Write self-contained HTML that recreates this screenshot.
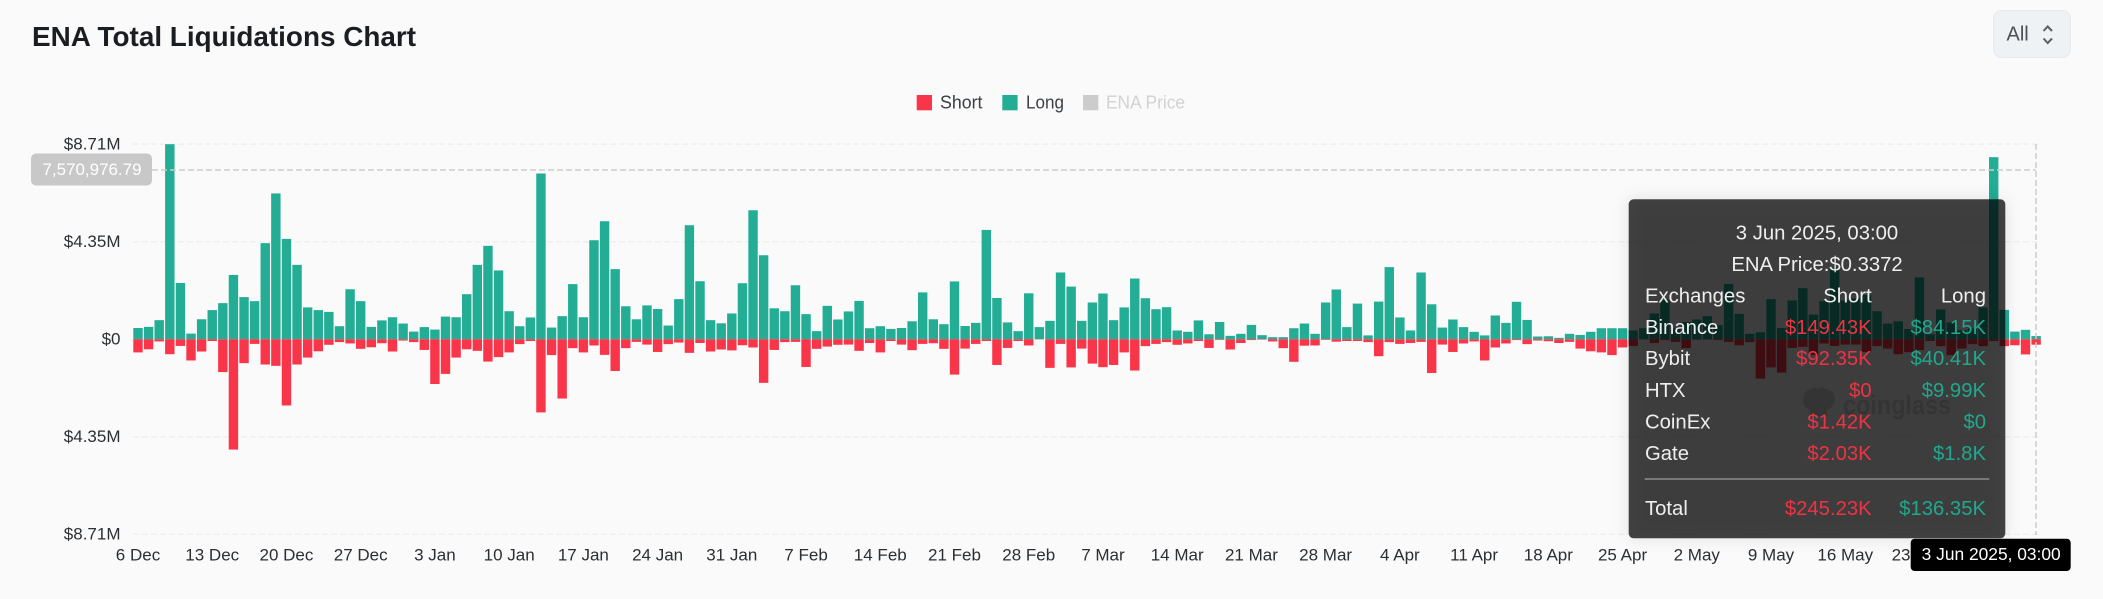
<!DOCTYPE html>
<html lang="en">
<head>
<meta charset="utf-8">
<title>ENA Total Liquidations Chart</title>
<style>
  html, body { margin: 0; padding: 0; background: #fafafa; }
  body { width: 2103px; height: 599px; overflow: hidden; }
  svg { display: block; font-family: "Liberation Sans", sans-serif; }
  .tick { font-size: 17px; fill: #2b2f33; }
  .legend-text { font-size: 18px; fill: #3c4043; }
  .tt { font-size: 20.3px; fill: #eeeeee; }
  .tt-s { font-size: 20.3px; fill: #ee3344; text-anchor: end; }
  .tt-l { font-size: 20.3px; fill: #20a88e; text-anchor: end; }
</style>
</head>
<body>
<svg id="chart" width="2103" height="599" viewBox="0 0 2103 599" xmlns="http://www.w3.org/2000/svg">
  <rect x="0" y="0" width="2103" height="599" fill="#fafafa"/>
  <text x="32" y="46" font-size="28" font-weight="700" fill="#1a1e22" textLength="384" lengthAdjust="spacingAndGlyphs">ENA Total Liquidations Chart</text>

  <g>
    <rect x="1993.5" y="10.5" width="77" height="47" rx="8" fill="#eef2f4" stroke="#e7eaec"/>
    <text x="2006.5" y="40.7" font-size="20" fill="#4a5056">All</text>
    <path d="M2043.5 31 L2047.7 26.5 L2052 31 M2043.5 38.5 L2047.7 43 L2052 38.5" fill="none" stroke="#5a6066" stroke-width="2"/>
  </g>

  <g>
    <g>
      <rect x="916.7" y="95" width="15.3" height="15.3" fill="#f93549"/>
      <text class="legend-text" x="940" y="108.3" textLength="42.5" lengthAdjust="spacingAndGlyphs">Short</text>
    </g>
    <g>
      <rect x="1002.3" y="95" width="15.3" height="15.3" fill="#22ad94"/>
      <text class="legend-text" x="1026" y="108.3" textLength="38" lengthAdjust="spacingAndGlyphs">Long</text>
    </g>
    <g>
      <rect x="1083" y="95" width="15.3" height="15.3" fill="#cccccc"/>
      <text class="legend-text" style="fill:#d2d2d2" x="1106" y="108.3" textLength="79" lengthAdjust="spacingAndGlyphs">ENA Price</text>
    </g>
  </g>

  <g id="grid"></g>
  <g id="yaxis"></g>
  <g id="xaxis"></g>

  <g>
    <path d="M1803 400 C1803 393 1808 389 1812 389 L1814 387 L1818 389 L1822 387 L1825 389 C1830 389 1835 393 1835 399 C1835 404 1831 408 1827 410 L1827 416 L1810 416 L1810 410 C1806 408 1803 405 1803 400 Z" fill="#d5d5d5"/>
    <text x="1843" y="414" font-size="27" font-weight="700" fill="#d7d7d7" textLength="108" lengthAdjust="spacingAndGlyphs">coinglass</text>
  </g>

  <g id="bars"></g>

  <g>
    <line x1="152" y1="170" x2="2036" y2="170" stroke="#cccccc" stroke-width="1.5" stroke-dasharray="6 3"/>
    <line x1="2036" y1="144" x2="2036" y2="535" stroke="#cccccc" stroke-width="1.5" stroke-dasharray="6 3"/>
    <rect x="31" y="153.5" width="121" height="32" rx="5" fill="#c8c8c8"/>
    <text x="42.5" y="175" font-size="17" fill="#ffffff" textLength="99" lengthAdjust="spacingAndGlyphs">7,570,976.79</text>
  </g>

  <g>
    <rect x="1628.7" y="199.3" width="376.6" height="339" rx="5" fill="rgba(0,0,0,0.73)" style="filter:drop-shadow(0 0 8px rgba(0,0,0,0.14))"/>
    <text class="tt" x="1817" y="239.3" text-anchor="middle">3 Jun 2025, 03:00</text>
    <text class="tt" x="1817" y="271" text-anchor="middle">ENA Price:$0.3372</text>

    <text class="tt" x="1645" y="302.3">Exchanges</text>
    <text class="tt" x="1871.7" y="302.3" text-anchor="end">Short</text>
    <text class="tt" x="1986" y="302.3" text-anchor="end">Long</text>

    <text class="tt" x="1645" y="334">Binance</text>
    <text class="tt-s" x="1871.7" y="334">$149.43K</text>
    <text class="tt-l" x="1986" y="334">$84.15K</text>

    <text class="tt" x="1645" y="365">Bybit</text>
    <text class="tt-s" x="1871.7" y="365">$92.35K</text>
    <text class="tt-l" x="1986" y="365">$40.41K</text>

    <text class="tt" x="1645" y="397">HTX</text>
    <text class="tt-s" x="1871.7" y="397">$0</text>
    <text class="tt-l" x="1986" y="397">$9.99K</text>

    <text class="tt" x="1645" y="428.3">CoinEx</text>
    <text class="tt-s" x="1871.7" y="428.3">$1.42K</text>
    <text class="tt-l" x="1986" y="428.3">$0</text>

    <text class="tt" x="1645" y="460">Gate</text>
    <text class="tt-s" x="1871.7" y="460">$2.03K</text>
    <text class="tt-l" x="1986" y="460">$1.8K</text>

    <line x1="1644.7" y1="479" x2="1989.3" y2="479" stroke="#b5b5b5" stroke-width="1"/>

    <text class="tt" x="1645" y="515">Total</text>
    <text class="tt-s" x="1871.7" y="515">$245.23K</text>
    <text class="tt-l" x="1986" y="515">$136.35K</text>
  </g>

  <g>
    <rect x="1910.7" y="538.7" width="160" height="32.3" rx="4" fill="#000000"/>
    <text x="1921.7" y="560" font-size="17.3" fill="#ffffff" textLength="139" lengthAdjust="spacingAndGlyphs">3 Jun 2025, 03:00</text>
  </g>
</svg>

<script>
const longValues = [
  0.50,0.55,0.85,8.71,2.51,0.25,0.89,1.30,1.61,2.87,1.88,1.70,4.29,6.51,4.48,3.32,1.42,1.30,1.22,0.58,
  2.23,1.70,0.55,0.84,0.98,0.70,0.34,0.54,0.43,1.01,0.98,2.01,3.32,4.17,3.07,1.25,0.58,0.97,7.40,0.52,
  1.03,2.46,0.98,4.42,5.27,3.13,1.47,0.89,1.51,1.35,0.61,1.79,5.09,2.59,0.85,0.71,1.15,2.50,5.76,3.75,
  1.38,1.25,2.41,1.12,0.36,1.49,0.88,1.24,1.71,0.49,0.58,0.46,0.50,0.80,2.09,0.89,0.67,2.58,0.59,0.73,
  4.88,1.84,0.75,0.36,2.05,0.54,0.82,2.98,2.35,0.82,1.64,2.04,0.85,1.42,2.71,1.83,1.34,1.43,0.39,0.33,
  0.84,0.22,0.77,0.15,0.24,0.64,0.18,0.09,0.09,0.49,0.70,0.24,1.64,2.22,0.54,1.59,0.17,1.68,3.22,0.97,
  0.39,2.98,1.56,0.52,0.88,0.54,0.33,0.17,1.06,0.73,1.67,0.86,0.12,0.13,0.06,0.24,0.19,0.33,0.49,0.49,
  0.49,0.39,0.49,1.15,1.74,0.48,0.77,0.88,1.03,0.63,2.47,1.13,0.24,0.31,1.79,0.50,1.73,2.28,1.10,1.70,
  3.16,1.73,1.82,1.97,1.25,0.70,0.80,0.46,2.76,0.22,1.33,0.75,0.40,0.48,1.42,8.13,1.31,0.34,0.42,0.14
];
const shortValues = [
  0.59,0.45,0.10,0.67,0.30,0.95,0.55,0.08,1.47,4.93,1.07,0.21,1.13,1.19,2.96,1.13,0.82,0.54,0.25,0.13,
  0.19,0.43,0.36,0.18,0.55,0.06,0.13,0.48,2.00,1.55,0.82,0.45,0.52,1.00,0.80,0.59,0.22,0.08,3.27,0.71,
  2.65,0.40,0.59,0.28,0.70,1.42,0.40,0.12,0.24,0.57,0.22,0.15,0.61,0.17,0.55,0.46,0.50,0.27,0.37,1.95,
  0.48,0.13,0.12,1.24,0.43,0.33,0.25,0.24,0.52,0.17,0.59,0.08,0.24,0.49,0.21,0.18,0.43,1.58,0.42,0.21,
  0.08,1.15,0.39,0.08,0.28,0.01,1.28,0.21,1.26,0.42,1.09,1.25,1.15,0.59,1.40,0.31,0.21,0.13,0.25,0.19,
  0.08,0.39,0.03,0.46,0.17,0.04,0.02,0.10,0.40,1.01,0.29,0.28,0.03,0.11,0.08,0.08,0.13,0.76,0.13,0.21,
  0.17,0.12,1.51,0.24,0.57,0.19,0.10,0.95,0.37,0.19,0.04,0.22,0.06,0.09,0.17,0.12,0.42,0.54,0.59,0.71,
  0.37,0.31,0.01,0.17,0.04,0.12,0.40,0.02,0.02,0.04,0.12,0.27,0.13,1.76,1.26,1.49,0.39,0.34,0.70,0.19,
  0.30,0.24,0.24,0.57,0.31,0.42,0.67,0.58,0.48,0.08,0.31,0.71,0.42,0.22,0.31,0.08,0.31,0.27,0.68,0.245
];
const xTickLabels = [
  "6 Dec","13 Dec","20 Dec","27 Dec","3 Jan","10 Jan","17 Jan","24 Jan","31 Jan","7 Feb","14 Feb","21 Feb","28 Feb",
  "7 Mar","14 Mar","21 Mar","28 Mar","4 Apr","11 Apr","18 Apr","25 Apr","2 May","9 May","16 May","23 May","30 May"
];
const xTickEvery = 7;
const yTickValues = [8.71, 4.355, 0, -4.355, -8.71];
const yTickLabels = ["$8.71M", "$4.35M", "$0", "$4.35M", "$8.71M"];

const NS = "http://www.w3.org/2000/svg";
function xScale(i) { return 138 + 10.604 * i; }
function yScale(v) { return 339.2 - v * 22.39; }
const barWidth = 9.4;

const barsGroup = document.getElementById("bars");
const gridGroup = document.getElementById("grid");
const yAxisGroup = document.getElementById("yaxis");
const xAxisGroup = document.getElementById("xaxis");

yTickValues.forEach(function (v, i) {
  const y = yScale(v);
  if (v !== 0) {
    const line = document.createElementNS(NS, "line");
    
    
    line.setAttribute("x1", 133);
    line.setAttribute("x2", 2041);
    line.setAttribute("y1", y);
    line.setAttribute("y2", y);
    line.setAttribute("stroke", "#efefef");
    line.setAttribute("stroke-width", "1.5");
    line.setAttribute("stroke-dasharray", "6 3");
    gridGroup.appendChild(line);
  }
  const label = document.createElementNS(NS, "text");
  
  
  label.setAttribute("class", "tick");
  label.setAttribute("x", 120.5);
  label.setAttribute("y", y + 5.2);
  label.setAttribute("text-anchor", "end");
  label.textContent = yTickLabels[i];
  yAxisGroup.appendChild(label);
});

xTickLabels.forEach(function (t, k) {
  const label = document.createElementNS(NS, "text");
  
  
  label.setAttribute("class", "tick");
  label.setAttribute("x", xScale(k * xTickEvery));
  label.setAttribute("y", 560.7);
  label.setAttribute("text-anchor", "middle");
  label.textContent = t;
  xAxisGroup.appendChild(label);
});

longValues.forEach(function (v, i) {
  const bar = document.createElementNS(NS, "rect");
  
  
  bar.setAttribute("x", xScale(i) - barWidth / 2);
  bar.setAttribute("y", yScale(v));
  bar.setAttribute("width", barWidth);
  bar.setAttribute("height", yScale(0) - yScale(v));
  bar.setAttribute("fill", "#22ad94");
  barsGroup.appendChild(bar);
});

shortValues.forEach(function (v, i) {
  const bar = document.createElementNS(NS, "rect");
  
  
  bar.setAttribute("x", xScale(i) - barWidth / 2);
  bar.setAttribute("y", yScale(0));
  bar.setAttribute("width", barWidth);
  bar.setAttribute("height", yScale(-v) - yScale(0));
  bar.setAttribute("fill", "#f93549");
  barsGroup.appendChild(bar);
});
</script>
</body>
</html>
